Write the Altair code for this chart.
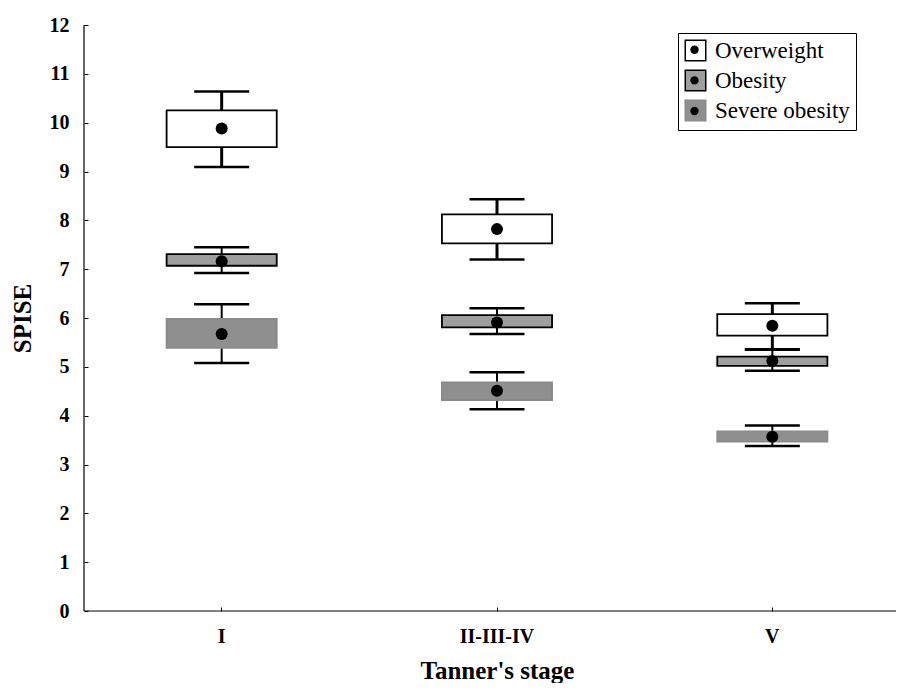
import altair as alt
import pandas as pd

stages = ["I", "II-III-IV", "V"]
groups = ["Overweight", "Obesity", "Severe obesity"]

# Overweight
ow_low = [9.09, 7.20, 5.35]
ow_q1 = [9.50, 7.53, 5.64]
ow_mean = [9.88, 7.82, 5.84]
ow_q3 = [10.25, 8.12, 6.08]
ow_high = [10.64, 8.43, 6.30]
# Obesity
ob_low = [6.92, 5.67, 4.92]
ob_q1 = [7.07, 5.81, 5.02]
ob_mean = [7.16, 5.91, 5.12]
ob_q3 = [7.31, 6.06, 5.21]
ob_high = [7.45, 6.20, 5.36]
# Severe obesity
so_low = [5.08, 4.13, 3.38]
so_q1 = [5.39, 4.32, 3.47]
so_mean = [5.67, 4.51, 3.57]
so_q3 = [5.98, 4.68, 3.68]
so_high = [6.28, 4.89, 3.80]

rows = []
for g, lo, q1, mn, q3, hi in [
    (groups[0], ow_low, ow_q1, ow_mean, ow_q3, ow_high),
    (groups[1], ob_low, ob_q1, ob_mean, ob_q3, ob_high),
    (groups[2], so_low, so_q1, so_mean, so_q3, so_high),
]:
    for i, s in enumerate(stages):
        rows.append(dict(stage=s, group=g, grp=g, low=lo[i], q1=q1[i], mean=mn[i], q3=q3[i], high=hi[i]))
df = pd.DataFrame(rows)

FONT = "Liberation Serif"
W, H = 812, 586
XR = 826

x = alt.X(
    "stage:N",
    sort=stages,
    scale=alt.Scale(domain=stages, range=[0, XR], paddingInner=0, paddingOuter=0),
    axis=alt.Axis(
        title="Tanner's stage", labelAngle=0, domain=False, grid=False,
        tickSize=4, offset=-4, tickColor="black", tickWidth=1,
        labelFont=FONT, labelFontSize=20, labelFontWeight="bold", labelColor="black",
        labelPadding=15, titleFont=FONT, titleFontSize=25, titleFontWeight="bold",
        titleColor="black", titlePadding=12,
    ),
)

yaxis = alt.Axis(
    title="SPISE", values=list(range(13)), domain=False, grid=False,
    tickSize=4, offset=-4, tickColor="black", tickWidth=1,
    labelFont=FONT, labelFontSize=20, labelFontWeight="bold", labelColor="black",
    labelPadding=15, titleFont=FONT, titleFontSize=25, titleFontWeight="bold",
    titleColor="black", titlePadding=14,
)
yscale = alt.Scale(domain=[0, 12], nice=False, zero=True)


def Y(field):
    return alt.Y(field, type="quantitative", scale=yscale, axis=yaxis)


legA = alt.Legend(
    title=None, orient="none", legendX=594, legendY=8,
    symbolType="square", symbolSize=420, symbolStrokeWidth=1.5,
    labelFont=FONT, labelFontSize=23, labelColor="black", labelOffset=8,
    labelLimit=400,
    labelExpr="datum.label + '\u2003\u2003'",
    rowPadding=3, padding=6, strokeColor="black",
)
legB = alt.Legend(
    title=None, orient="none", legendX=600, legendY=14.3,
    symbolType="circle", symbolSize=70, symbolFillColor="black",
    symbolStrokeColor="black", symbolStrokeWidth=0,
    labelFont=FONT, labelFontSize=1, labelExpr="''", labelOffset=0,
    rowPadding=21.6, padding=6,
)

base = alt.Chart(df)

whiskers_ow = base.mark_rule(color="black", strokeWidth=3).encode(
    x=x, y=Y("low"), y2="high"
).transform_filter(alt.datum.group == groups[0])
whiskers_other = base.mark_rule(color="black", strokeWidth=2).encode(
    x=x, y=Y("low"), y2="high"
).transform_filter(alt.datum.group != groups[0])

boxes = base.mark_bar(width=alt.RelativeBandSize(0.4), strokeWidth=1.8, opacity=1).encode(
    x=x, y=Y("q1"), y2="q3",
    fill=alt.Fill("group:N", scale=alt.Scale(domain=groups, range=["#ffffff", "#9e9e9e", "#8f8f8f"]), legend=legA),
    stroke=alt.Stroke("group:N", scale=alt.Scale(domain=groups, range=["#000000", "#000000", "#8a8a8a"]), legend=legA),
)

cap_hi = base.mark_tick(size=55, thickness=2.5, color="black", opacity=1).encode(x=x, y=Y("high"))
cap_lo = base.mark_tick(size=55, thickness=2.5, color="black", opacity=1).encode(x=x, y=Y("low"))

means = base.mark_point(filled=True, size=144, color="black", opacity=1).encode(
    x=x, y=Y("mean"),
    shape=alt.Shape("grp:N", scale=alt.Scale(range=["circle", "circle", "circle"]), legend=legB),
)

one = alt.Chart(pd.DataFrame({"k": [0]}))
yline = one.mark_rule(color="black", strokeWidth=1.2).encode(
    x=alt.value(0), y=alt.datum(0, type="quantitative"), y2=alt.datum(12)
)
xline = one.mark_rule(color="black", strokeWidth=1.2).encode(
    x=alt.value(0), x2=alt.value(XR), y=alt.datum(0, type="quantitative")
)

chart = alt.layer(whiskers_ow, whiskers_other, boxes, cap_hi, cap_lo, means, yline, xline).properties(
    width=W, height=H,
    autosize=alt.AutoSizeParams(type="none"),
    padding={"left": 76, "top": 17, "right": 0, "bottom": 72},
    background="white",
).configure_view(stroke=None)

chart.save("out.html", embed_options={"renderer": "svg", "actions": False})
